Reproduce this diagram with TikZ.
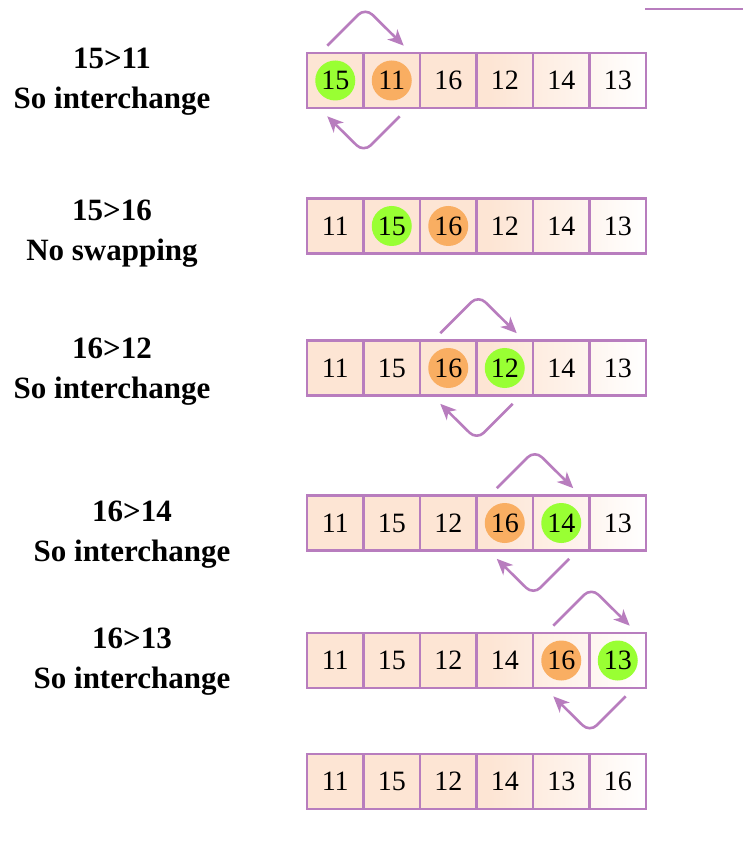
\documentclass[tikz,border=0pt]{standalone}
\usepackage{fontspec}
\setmainfont{Liberation Serif}
\usetikzlibrary{arrows.meta}
\definecolor{swapline}{RGB}{184,125,190}
\definecolor{cellfill}{RGB}{253,229,212}
\definecolor{lesser}{RGB}{153,255,51}
\definecolor{greater}{RGB}{249,174,98}
\pgfdeclarehorizontalshading{cellfade}{100bp}{color(0bp)=(cellfill); color(25bp)=(cellfill); color(52bp)=(cellfill); color(75bp)=(white); color(100bp)=(white)}

\begin{document}
\begin{tikzpicture}[x=0.5pt,y=-0.5pt]
  \tikzstyle{cell}=[draw=swapline, line width=1.3pt, minimum width=28.25pt, minimum height=27.5pt, inner sep=0pt, font=\fontsize{14}{16}\selectfont]
  \tikzstyle{gball}=[circle, fill=lesser, minimum size=20pt, inner sep=0pt]
  \tikzstyle{oball}=[circle, fill=greater, minimum size=20pt, inner sep=0pt]
  \tikzstyle{swap}=[draw=swapline, line width=1.3pt, rounded corners=5pt, -{Stealth[length=8pt,width=7pt,inset=2.3pt]}]
  \tikzstyle{note}=[align=center, font=\bfseries\fontsize{15.5}{20}\selectfont]
  \useasboundingbox (0,0) rectangle (743,849);
  \draw[swapline, line width=1pt] (645,9) -- (743,9);
  % row 1
  \fill[shading=cellfade] (307,53) rectangle (646,108);
  \node[gball] (g1) at (335.25,80.5) {};
  \node[oball] (o1) at (391.75,80.5) {};
  \foreach \v [count=\i] in {15,11,16,12,14,13}
    \node[cell] (r1c\i) at ({307+56.5*(\i-0.5)},80.5) {\v};
  \node[note] (t1) at (112,82) {15>11\\So interchange};
  \draw[swap] ([xshift=-4pt,yshift=3pt]r1c1.north) -- ++(19pt,19pt) -- ([xshift=6pt,yshift=3pt]r1c2.north);
  \draw[swap] ([xshift=4pt,yshift=-3.5pt]r1c2.south) -- ++(-18pt,-18pt) -- ([xshift=-4pt,yshift=-3.5pt]r1c1.south);
  % row 2
  \fill[shading=cellfade] (307,198.5) rectangle (646,253.5);
  \node[gball] (g2) at (391.75,226) {};
  \node[oball] (o2) at (448.25,226) {};
  \foreach \v [count=\i] in {11,15,16,12,14,13}
    \node[cell] (r2c\i) at ({307+56.5*(\i-0.5)},226) {\v};
  \node[note] (t2) at (112,234) {15>16\\No swapping};
  % row 3
  \fill[shading=cellfade] (307,340.5) rectangle (646,395.5);
  \node[oball] (o3) at (448.25,368) {};
  \node[gball] (g3) at (504.75,368) {};
  \foreach \v [count=\i] in {11,15,16,12,14,13}
    \node[cell] (r3c\i) at ({307+56.5*(\i-0.5)},368) {\v};
  \node[note] (t3) at (112,372) {16>12\\So interchange};
  \draw[swap] ([xshift=-4pt,yshift=3pt]r3c3.north) -- ++(19pt,19pt) -- ([xshift=6pt,yshift=3pt]r3c4.north);
  \draw[swap] ([xshift=4pt,yshift=-3.5pt]r3c4.south) -- ++(-18pt,-18pt) -- ([xshift=-4pt,yshift=-3.5pt]r3c3.south);
  % row 4
  \fill[shading=cellfade] (307,495.5) rectangle (646,550.5);
  \node[oball] (o4) at (504.75,523) {};
  \node[gball] (g4) at (561.25,523) {};
  \foreach \v [count=\i] in {11,15,12,16,14,13}
    \node[cell] (r4c\i) at ({307+56.5*(\i-0.5)},523) {\v};
  \node[note] (t4) at (132,535) {16>14\\So interchange};
  \draw[swap] ([xshift=-4pt,yshift=3pt]r4c4.north) -- ++(19pt,19pt) -- ([xshift=6pt,yshift=3pt]r4c5.north);
  \draw[swap] ([xshift=4pt,yshift=-3.5pt]r4c5.south) -- ++(-18pt,-18pt) -- ([xshift=-4pt,yshift=-3.5pt]r4c4.south);
  % row 5
  \fill[shading=cellfade] (307,633) rectangle (646,688);
  \node[oball] (o5) at (561.25,660.5) {};
  \node[gball] (g5) at (617.75,660.5) {};
  \foreach \v [count=\i] in {11,15,12,14,16,13}
    \node[cell] (r5c\i) at ({307+56.5*(\i-0.5)},660.5) {\v};
  \node[note] (t5) at (132,662) {16>13\\So interchange};
  \draw[swap] ([xshift=-4pt,yshift=3pt]r5c5.north) -- ++(19pt,19pt) -- ([xshift=6pt,yshift=3pt]r5c6.north);
  \draw[swap] ([xshift=4pt,yshift=-3.5pt]r5c6.south) -- ++(-18pt,-18pt) -- ([xshift=-4pt,yshift=-3.5pt]r5c5.south);
  % row 6
  \fill[shading=cellfade] (307,754) rectangle (646,809);
  \foreach \v [count=\i] in {11,15,12,14,13,16}
    \node[cell] (r6c\i) at ({307+56.5*(\i-0.5)},781.5) {\v};
\end{tikzpicture}
\end{document}
